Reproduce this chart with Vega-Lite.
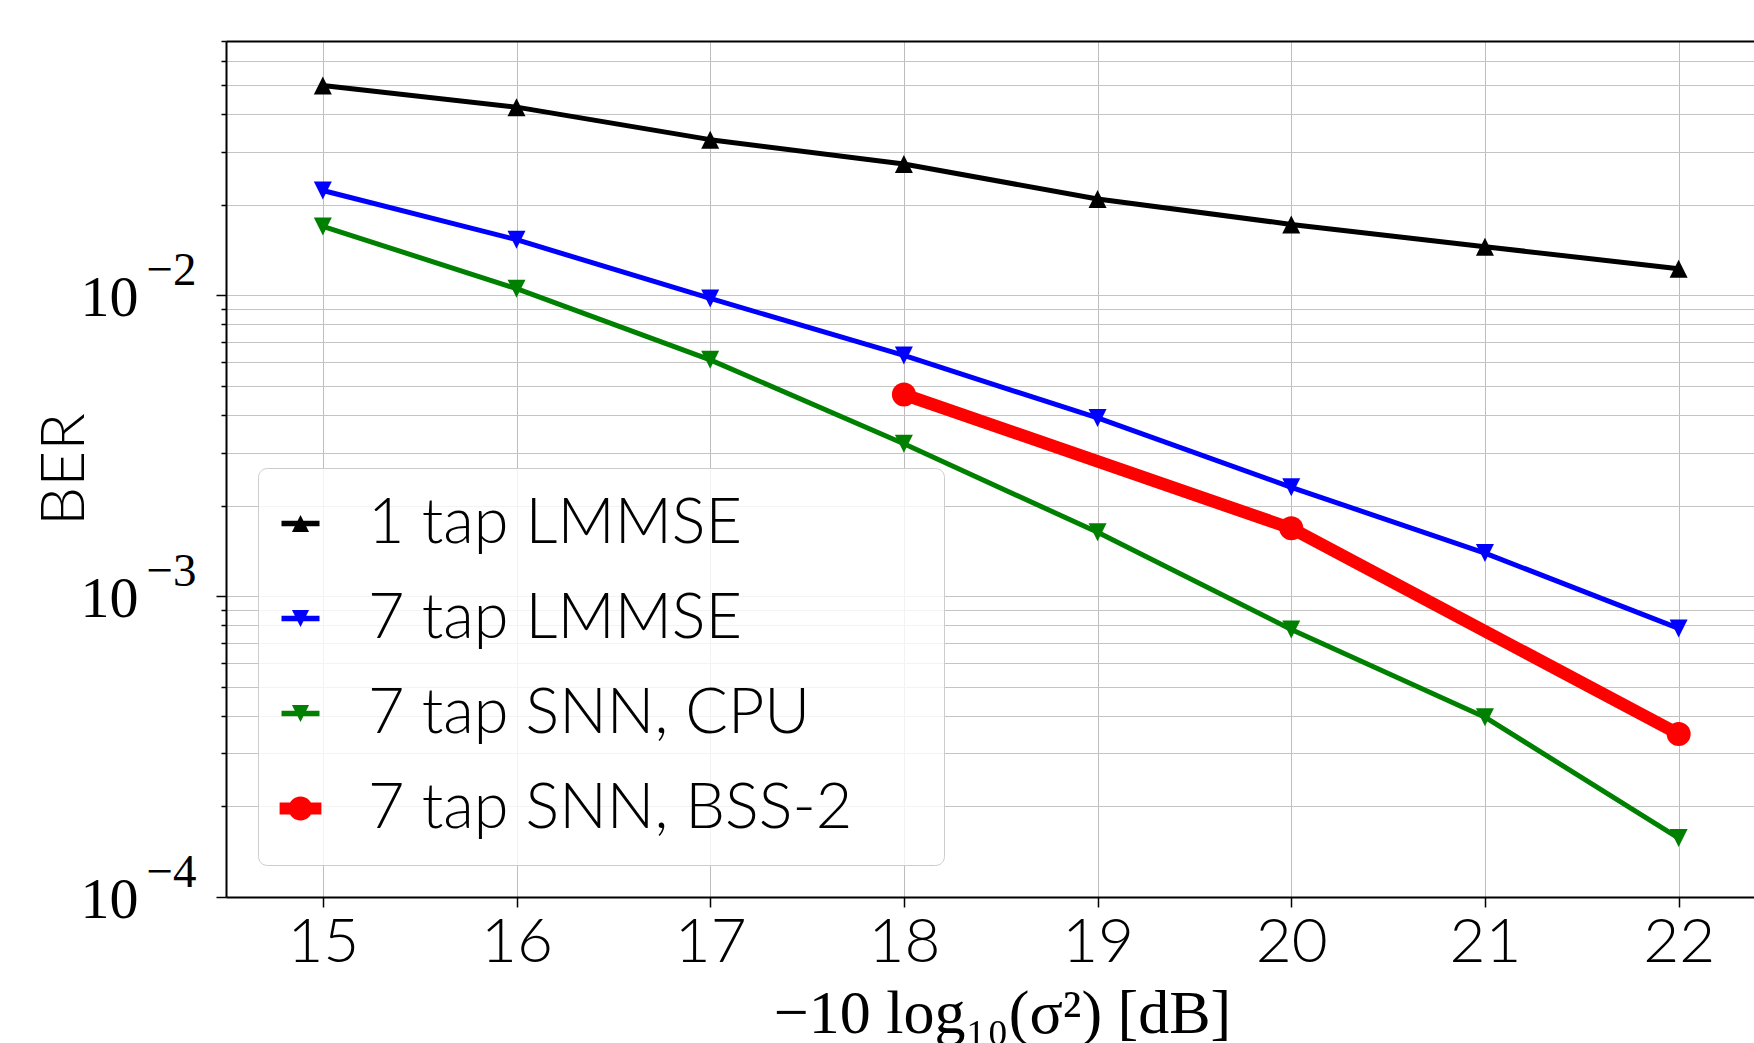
{
  "$schema": "https://vega.github.io/schema/vega-lite/v6.json",
  "autosize": {"type": "none"},
  "padding": {"left": 226, "top": 41, "right": 0, "bottom": 146},
  "width": 1528,
  "height": 856,
  "background": "white",
  "view": {"stroke": null},
  "data": {"values": [
    {"snr": 15, "ber": 0.0498, "series": "1 tap LMMSE"},
    {"snr": 16, "ber": 0.0422, "series": "1 tap LMMSE"},
    {"snr": 17, "ber": 0.0329, "series": "1 tap LMMSE"},
    {"snr": 18, "ber": 0.0273, "series": "1 tap LMMSE"},
    {"snr": 19, "ber": 0.0209, "series": "1 tap LMMSE"},
    {"snr": 20, "ber": 0.0172, "series": "1 tap LMMSE"},
    {"snr": 21, "ber": 0.0145, "series": "1 tap LMMSE"},
    {"snr": 22, "ber": 0.01225, "series": "1 tap LMMSE"},
    {"snr": 15, "ber": 0.0223, "series": "7 tap LMMSE"},
    {"snr": 16, "ber": 0.0153, "series": "7 tap LMMSE"},
    {"snr": 17, "ber": 0.00976, "series": "7 tap LMMSE"},
    {"snr": 18, "ber": 0.00631, "series": "7 tap LMMSE"},
    {"snr": 19, "ber": 0.00391, "series": "7 tap LMMSE"},
    {"snr": 20, "ber": 0.0023, "series": "7 tap LMMSE"},
    {"snr": 21, "ber": 0.00139, "series": "7 tap LMMSE"},
    {"snr": 22, "ber": 0.000781, "series": "7 tap LMMSE"},
    {"snr": 15, "ber": 0.01694, "series": "7 tap SNN, CPU"},
    {"snr": 16, "ber": 0.01052, "series": "7 tap SNN, CPU"},
    {"snr": 17, "ber": 0.0061, "series": "7 tap SNN, CPU"},
    {"snr": 18, "ber": 0.00321, "series": "7 tap SNN, CPU"},
    {"snr": 19, "ber": 0.00163, "series": "7 tap SNN, CPU"},
    {"snr": 20, "ber": 0.000775, "series": "7 tap SNN, CPU"},
    {"snr": 21, "ber": 0.000396, "series": "7 tap SNN, CPU"},
    {"snr": 22, "ber": 0.000157, "series": "7 tap SNN, CPU"},
    {"snr": 18, "ber": 0.00468, "series": "7 tap SNN, BSS-2"},
    {"snr": 20, "ber": 0.00168, "series": "7 tap SNN, BSS-2"},
    {"snr": 22, "ber": 0.000348, "series": "7 tap SNN, BSS-2"}
  ]},
  "encoding": {
    "color": {
      "field": "series", "type": "nominal",
      "scale": {"domain": ["1 tap LMMSE", "7 tap LMMSE", "7 tap SNN, CPU", "7 tap SNN, BSS-2"], "range": ["#000000", "#0000ff", "#008000", "#ff0000"]},
      "legend": {
        "title": null,
        "orient": "none", "legendX": 32, "legendY": 427, "direction": "vertical",
        "padding": 24, "cornerRadius": 9, "strokeColor": "#cccccc", "fillColor": "rgba(255,255,255,0.8)",
        "symbolSize": 1444, "symbolOffset": -13, "labelOffset": 36, "rowPadding": 31,
        "symbolStrokeWidth": 0, "symbolOpacity": 1,
        "labelFont": "Lato", "labelFontWeight": 300, "labelFontSize": 63, "labelColor": "black", "labelLimit": 0,
        "labelExpr": "datum.label + '\u2004\u2800'"
      }
    }
  },
  "layer": [
    {
      "transform": [{"filter": "datum.series !== '7 tap SNN, BSS-2'"}],
      "mark": {"type": "line", "strokeWidth": 5, "strokeJoin": "round"},
      "encoding": {
        "x": {
          "field": "snr", "type": "quantitative",
          "scale": {"domain": [14.5, 22.389], "nice": false, "zero": false},
          "axis": {
            "orient": "bottom", "values": [15, 16, 17, 18, 19, 20, 21, 22], "format": "d",
            "labelFont": "Lato", "labelFontWeight": 300, "labelFontSize": 62, "labelColor": "black", "labelPadding": 5,
            "domainColor": "black", "domainWidth": 2,
            "tickColor": "black", "tickWidth": 1.5, "tickSize": 10,
            "grid": true, "gridColor": "#bdbdbd", "gridWidth": 1,
            "title": "−10 log₁₀(σ²) [dB]", "titleFont": "Liberation Serif", "titleFontSize": 62, "titleFontWeight": "normal", "titleColor": "black",
            "titleX": 776, "titleY": 135, "titleAlign": "center", "titleBaseline": "alphabetic"
          }
        },
        "y": {
          "field": "ber", "type": "quantitative",
          "scale": {"type": "log", "domain": [0.0001, 0.07], "nice": false, "zero": false},
          "axis": {
            "orient": "left",
            "values": [0.0001, 0.0002, 0.0003, 0.0004, 0.0005, 0.0006, 0.0007, 0.0008, 0.0009, 0.001, 0.002, 0.003, 0.004, 0.005, 0.006, 0.007, 0.008, 0.009, 0.01, 0.02, 0.03, 0.04, 0.05, 0.06, 0.07],
            "labelExpr": "datum.value === 0.0001 || datum.value === 0.001 || datum.value === 0.01 ? '10' : ''",
            "labelFont": "Liberation Serif", "labelFontSize": 58, "labelColor": "black",
            "labelPadding": 78, "labelOffset": 3, "labelBaseline": "middle",
            "domainColor": "black", "domainWidth": 2,
            "tickColor": "black", "tickWidth": 1.5,
            "tickSize": {"condition": {"test": "datum.value === 0.0001 || datum.value === 0.001 || datum.value === 0.01", "value": 10}, "value": 5},
            "grid": true, "gridColor": "#c4c4c4", "gridWidth": 1,
            "title": "BER", "titleFont": "Lato", "titleFontWeight": 300, "titleFontSize": 62, "titleColor": "black",
            "titleAngle": 270, "titleX": -162, "titleY": 428, "titleAlign": "center", "titleBaseline": "middle"
          }
        }
      }
    },
    {
      "transform": [{"filter": "datum.series === '7 tap SNN, BSS-2'"}],
      "mark": {"type": "line", "strokeWidth": 12.5, "strokeJoin": "round"},
      "encoding": {
        "x": {"field": "snr", "type": "quantitative", "axis": null},
        "y": {"field": "ber", "type": "quantitative", "axis": null}
      }
    },
    {
      "transform": [{"filter": "datum.series === '1 tap LMMSE'"}],
      "mark": {"type": "point", "filled": true, "opacity": 1, "shape": "M0,-1L1,1L-1,1Z", "size": 324},
      "encoding": {
        "x": {
          "field": "snr", "type": "quantitative",
          "axis": {"orient": "top", "labels": false, "ticks": false, "grid": false, "domain": true, "domainColor": "black", "domainWidth": 2, "title": null}
        },
        "y": {
          "field": "ber", "type": "quantitative",
          "axis": {
            "orient": "left", "values": [0.0001, 0.001, 0.01],
            "labelExpr": "datum.value === 0.0001 ? '−4' : datum.value === 0.001 ? '−3' : '−2'",
            "labelFont": "Liberation Serif", "labelFontSize": 47, "labelColor": "black",
            "labelAlign": "left", "labelBaseline": "middle", "labelPadding": 80, "labelOffset": -25,
            "ticks": false, "tickSize": 0, "domain": false, "grid": false, "title": null
          }
        }
      }
    },
    {
      "transform": [{"filter": "datum.series === '7 tap LMMSE' || datum.series === '7 tap SNN, CPU'"}],
      "mark": {"type": "point", "filled": true, "opacity": 1, "shape": "M0,1L-1,-1L1,-1Z", "size": 324},
      "encoding": {
        "x": {"field": "snr", "type": "quantitative", "axis": null},
        "y": {"field": "ber", "type": "quantitative", "axis": null}
      }
    },
    {
      "transform": [{"filter": "datum.series === '7 tap SNN, BSS-2'"}],
      "mark": {"type": "point", "filled": true, "opacity": 1, "shape": "circle", "size": 576},
      "encoding": {
        "x": {"field": "snr", "type": "quantitative", "axis": null},
        "y": {"field": "ber", "type": "quantitative", "axis": null}
      }
    },
    {
      "transform": [{"filter": "false"}],
      "mark": {"type": "point", "filled": true, "opacity": 1},
      "encoding": {
        "x": {"field": "snr", "type": "quantitative", "axis": null},
        "y": {"field": "ber", "type": "quantitative", "axis": null},
        "shape": {
          "field": "series", "type": "nominal",
          "scale": {
            "domain": ["1 tap LMMSE", "7 tap LMMSE", "7 tap SNN, CPU", "7 tap SNN, BSS-2"],
            "range": [
              "M-1,-0.14H1V0.14H-1Z M0,-0.45L0.45,0.45L-0.45,0.45Z",
              "M-1,-0.14H1V0.14H-1Z M0,0.45L-0.45,-0.45L0.45,-0.45Z",
              "M-1,-0.14H1V0.14H-1Z M0,0.45L-0.45,-0.45L0.45,-0.45Z",
              "M-1.1,-0.32H1.1V0.32H-1.1Z M-0.63,0A0.63,0.63 0 1,1 0.63,0A0.63,0.63 0 1,1 -0.63,0Z"
            ]
          }
        }
      }
    }
  ],
  "resolve": {"axis": {"x": "independent", "y": "independent"}}
}
